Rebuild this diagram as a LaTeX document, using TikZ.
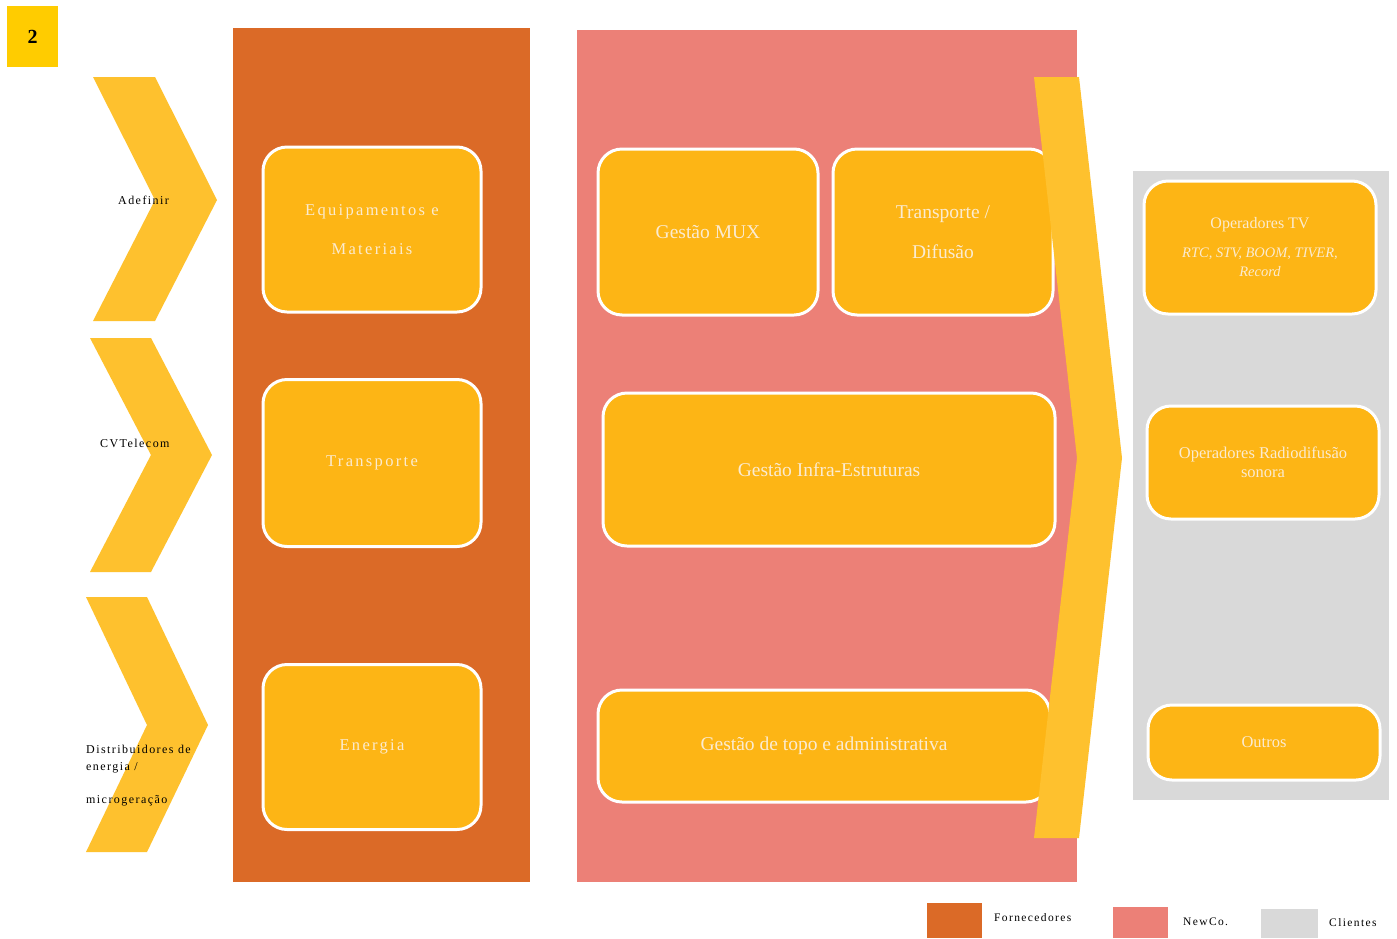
\documentclass[tikz,border=0pt]{standalone}
\usepackage{fontspec}
\setmainfont{Liberation Serif}
\newfontfamily\spaced[LetterSpace=12]{Liberation Serif}
\newfontfamily\spacedb[LetterSpace=14]{Liberation Serif}
\definecolor{orangeP}{HTML}{DB6A27}
\definecolor{pinkP}{HTML}{EC8077}
\definecolor{grayP}{HTML}{D9D9D9}
\definecolor{boxY}{HTML}{FDB515}
\definecolor{chevY}{HTML}{FEC12E}
\definecolor{numY}{HTML}{FFCC00}
\definecolor{txtL}{HTML}{FBEBD0}
\tikzset{
  ybox/.style={draw=white, line width=3pt, fill=boxY, rounded corners=24pt, align=center, text=txtL, inner sep=0pt},
  chev/.style={fill=chevY, draw=none},
  lbl/.style={inner sep=0pt, align=left, font=\spaced\fontsize{12}{14}\selectfont},
  leg/.style={inner sep=0pt, anchor=west, font=\spaced\fontsize{11.5}{13}\selectfont}
}
\begin{document}
\begin{tikzpicture}[x=1pt,y=-1pt]
\useasboundingbox (0,0) rectangle (1397,938);
\fill[white] (0,0) rectangle (1397,938);
% number box
\node[fill=numY, minimum width=51pt, minimum height=61pt, inner sep=0pt, font=\bfseries\fontsize{20}{22}\selectfont] (num) at (32.5,36.5) {2};
% left chevrons
\fill[chev] (93,77) -- (155,77) -- (217,200) -- (155,321) -- (93,321) -- (155,200) -- cycle;
\fill[chev] (90,338) -- (151,338) -- (212,455) -- (151,572) -- (90,572) -- (151,455) -- cycle;
\fill[chev] (86,597) -- (147,597) -- (208,725) -- (147,852) -- (86,852) -- (147,725) -- cycle;
\node[lbl, anchor=west] (c1) at (118,200) {Adefinir};
\node[lbl, anchor=west] (c2) at (100,443) {CVTelecom};
\node[lbl, anchor=north west, font=\spaced\fontsize{12}{17}\selectfont] (c3) at (86,745) {Distribuidores de\\energia /\\[16pt]microgeração};
% panels
\fill[orangeP] (233,28) rectangle (530,882);
\fill[pinkP] (577,30) rectangle (1077,882);
\fill[grayP] (1133,171) rectangle (1389,800);
% orange boxes
\node[ybox, minimum width=218pt, minimum height=165pt, font=\spacedb\fontsize{16.5}{39}\selectfont] (eq) at (372,229.5) {Equipamentos e\\Materiais};
\node[ybox, minimum width=218pt, minimum height=167pt, font=\spacedb\fontsize{16.5}{20}\selectfont] (tr) at (372,463) {Transporte};
\node[ybox, minimum width=218pt, minimum height=165pt, font=\spacedb\fontsize{16.5}{20}\selectfont] (en) at (372,747) {Energia};
% pink boxes
\node[ybox, minimum width=220pt, minimum height=166pt, font=\fontsize{19.5}{20}\selectfont] (mux) at (708,232) {Gestão MUX};
\node[ybox, minimum width=220pt, minimum height=166pt, font=\fontsize{19.5}{40}\selectfont] (dif) at (943,232) {Transporte /\\Difusão};
\node[ybox, minimum width=452pt, minimum height=153pt, font=\fontsize{19.5}{20}\selectfont] (inf) at (829,469.5) {Gestão Infra-Estruturas};
\node[ybox, minimum width=452pt, minimum height=112pt, font=\fontsize{19.5}{20}\selectfont] (top) at (824,746) {Gestão de topo e administrativa};
% big chevron
\fill[chev] (1034,77) -- (1079,77) -- (1122,458) -- (1079,838) -- (1034,838) -- (1077,458) -- cycle;
% gray boxes
\node[ybox, minimum width=232pt, minimum height=133pt, font=\fontsize{16}{19}\selectfont] (tv) at (1260,247.5) {Operadores TV\\[10pt]{\fontsize{14.5}{19}\selectfont\itshape RTC, STV,\ BOOM,\ TIVER,}\\{\fontsize{14.5}{19}\selectfont\itshape Record}};
\node[ybox, minimum width=232pt, minimum height=113pt, font=\fontsize{16.5}{19}\selectfont] (rad) at (1263,462.5) {Operadores Radiodifusão\\sonora};
\node[ybox, minimum width=232pt, minimum height=75pt, font=\fontsize{16.5}{19}\selectfont] (out) at (1264,742.5) {Outros};
% legend
\fill[orangeP] (927,903) rectangle (982,938);
\fill[pinkP] (1113,907) rectangle (1168,938);
\fill[grayP] (1261,909) rectangle (1318,938);
\node[leg] (l1) at (994,918) {Fornecedores};
\node[leg] (l2) at (1183,922) {NewCo.};
\node[leg] (l3) at (1329,923) {Clientes};
\end{tikzpicture}
\end{document}
